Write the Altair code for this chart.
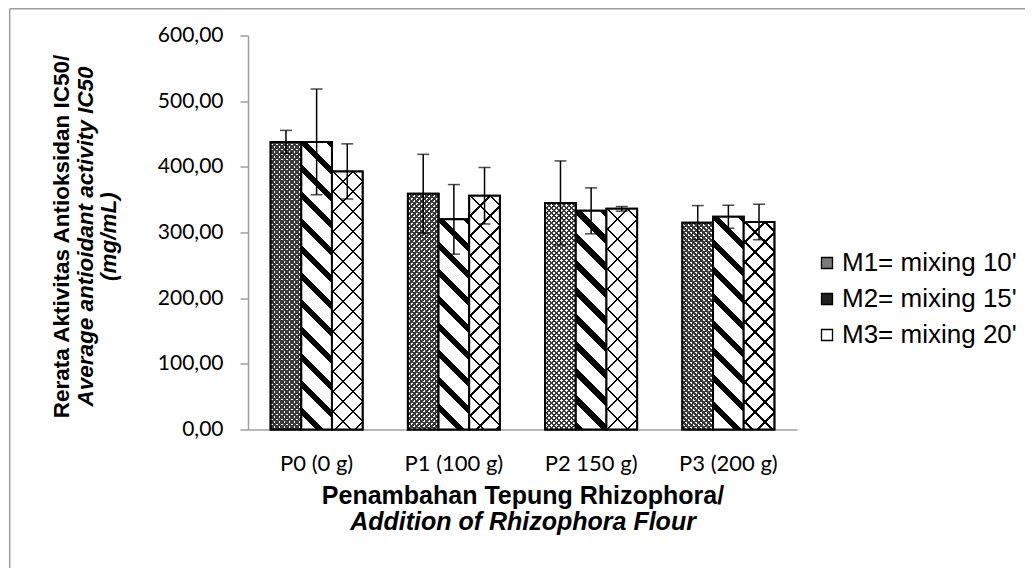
import altair as alt
import pandas as pd

# ---------------- data ----------------
categories = ["P0 (0 g)", "P1 (100 g)", "P2 150 g)", "P3 (200 g)"]
series = ["M1= mixing 10'", "M2= mixing 15'", "M3= mixing 20'"]
m1_values = [438, 359, 345, 315]
m2_values = [438, 320, 333, 324]
m3_values = [393, 356, 336, 316]
m1_err = [17.5, 60, 64, 26]
m2_err = [80.5, 53, 35, 17.5]
m3_err = [42, 43, 3.5, 27]
y_ticks = [0, 100, 200, 300, 400, 500, 600]

rows = []
for s, vals, errs in zip(series, [m1_values, m2_values, m3_values], [m1_err, m2_err, m3_err]):
    for c, v, e in zip(categories, vals, errs):
        rows.append({"cat": c, "series": s, "v": v, "e": e})
df = pd.DataFrame(rows)

# ---------------- layout ----------------
W, H = 549, 394
PAD_IN = 0.33
BW = (W / 4) * (1 - PAD_IN) / 3          # bar width in px
K = H / 600.0                             # px per unit
H0 = 300.0
L = BW + H0
A = BW / L

def stops_js(period, dark_frac, dark, light):
    out = []
    k = 0
    while k * period < L:
        s = k * period / L
        e = min((k * period + period * dark_frac) / L, 1.0)
        n = min((k + 1) * period / L, 1.0)
        out += [(s, dark), (e, dark), (e, light), (n, light)]
        k += 1
    return "[" + ",".join("{offset:%.5f,color:'%s'}" % (o, c) for o, c in out) + "]"

def pattern_layer(idx, tag, direction, period, dark_frac, dark, light, stroke):
    C = H0 / L if direction < 0 else 0.0
    bd = f"{direction}*datum.v*{K}/{L}"
    grad = ("{gradient:'linear',x1:%f*datum.dx_%s,y1:%f*datum.dy_%s,x2:%f*datum.dx_%s,y2:%f*datum.dy_%s,stops:%s}"
            % (-C, tag, -C, tag, 1 - C, tag, 1 - C, tag, stops_js(period, dark_frac, dark, light)))
    ch = (alt.Chart(df)
          .transform_filter(alt.FieldEqualPredicate(field="series", equal=series[idx]))
          .transform_calculate(**{f"bd_{tag}": bd})
          .transform_calculate(**{f"dx_{tag}": f"{A}/({A*A}+datum.bd_{tag}*datum.bd_{tag})"})
          .transform_calculate(**{f"dy_{tag}": f"datum.bd_{tag}/({A*A}+datum.bd_{tag}*datum.bd_{tag})"})
          .transform_calculate(**{f"g_{tag}": grad}))
    mk = ch.mark_bar(stroke="black" if stroke else None, strokeWidth=2 if stroke else 0, aria=False)
    return mk.encode(x=xenc, xOffset=xoff, y=yenc,
                     fill=alt.Fill(f"g_{tag}:N", scale=None, legend=None))

xenc = alt.X("cat:N", sort=categories,
             scale=alt.Scale(paddingInner=PAD_IN, paddingOuter=PAD_IN / 2),
             axis=alt.Axis(title=None, ticks=False, labelAngle=0, domainColor="#a0a0a0",
                           domainWidth=1.5, labelFont="Lato", labelFontSize=22,
                           labelColor="black", labelPadding=24))
xoff = alt.XOffset("series:N", sort=series,
                   scale=alt.Scale(domain=series, paddingInner=0, paddingOuter=0))
yenc = alt.Y("v:Q", scale=alt.Scale(domain=[0, 600], nice=False),
             axis=alt.Axis(title=None, values=y_ticks, grid=False,
                           labelExpr="replace(format(datum.value, '.2f'), '.', ',')",
                           domainColor="#a0a0a0", domainWidth=1.5, tickColor="#a0a0a0",
                           tickWidth=1.5, tickSize=8, labelFont="Lato", labelFontSize=21,
                           labelColor="black", labelPadding=17))

legend_bars = alt.Chart(df).mark_bar(stroke="black", strokeWidth=2).encode(
    x=xenc, xOffset=xoff, y=yenc,
    fill=alt.Fill("series:N", sort=series,
                  scale=alt.Scale(domain=series, range=["#7a7a7a", "#202020", "#ffffff"]),
                  legend=alt.Legend(orient="none", legendX=566, legendY=214.5, title=None,
                                    symbolType="square", symbolSize=121,
                                    symbolStrokeColor="black", symbolStrokeWidth=1.3,
                                    labelFont="Liberation Sans", labelFontSize=26,
                                    labelColor="black", rowPadding=10, labelOffset=2,
                                    padding=0, labelLimit=400)))

p1a = pattern_layer(0, "m1a", 1, 5, 0.5, "#3a3a3a", "#ffffff", False)
p1b = pattern_layer(0, "m1b", -1, 5, 0.5, "#3a3a3a", "rgba(255,255,255,0)", True)
p2 = pattern_layer(1, "m2", -1, 27, 0.3, "#000000", "#ffffff", True)
p3a = pattern_layer(2, "m3a", 1, 20, 0.12, "#000000", "#ffffff", False)
p3b = pattern_layer(2, "m3b", -1, 20, 0.12, "#000000", "rgba(255,255,255,0)", True)

err = alt.Chart(df).transform_calculate(lo="datum.v - datum.e", hi="datum.v + datum.e")
err_rule = err.mark_rule(color="black", strokeWidth=1.5).encode(
    x=xenc, xOffset=xoff, y=alt.Y("lo:Q"), y2="hi:Q")
err_lo = err.mark_tick(color="black", thickness=1.5, size=12).encode(x=xenc, xOffset=xoff, y="lo:Q")
err_hi = err.mark_tick(color="black", thickness=1.5, size=12).encode(x=xenc, xOffset=xoff, y="hi:Q")

one = pd.DataFrame({"a": [0]})
def txt(text, x, y, size, italic=False, angle=0):
    kw = dict(font="Liberation Sans", fontSize=size, fontWeight="bold", align="center",
              baseline="middle", color="black", angle=angle)
    if italic:
        kw["fontStyle"] = "italic"
    return alt.Chart(one).mark_text(**kw).encode(x=alt.value(x), y=alt.value(y), text=alt.value(text))

ytitle1 = txt("Rerata Aktivitas Antioksidan IC50/", -186, 201, 22.5, angle=270)
ytitle2 = txt("Average antioidant activity IC50", -162, 201, 22.5, italic=True, angle=270)
ytitle3 = txt("(mg/mL)", -139, 201, 22.5, italic=True, angle=270)
xtitle1 = txt("Penambahan Tepung Rhizophora/", 275, 460, 25)
xtitle2 = txt("Addition of Rhizophora Flour", 275, 486.5, 25, italic=True)

border_l = alt.Chart(one).mark_rule(color="#a0a0a0", strokeWidth=1.5).encode(
    x=alt.value(-238.3), y=alt.value(-26.75), y2=alt.value(600))
border_t = alt.Chart(one).mark_rule(color="#a0a0a0", strokeWidth=1.5).encode(
    x=alt.value(-238.3), x2=alt.value(900), y=alt.value(-26.75))

chart = alt.layer(
    border_l, border_t, legend_bars, p1a, p1b, p2, p3a, p3b, err_rule, err_lo, err_hi,
    ytitle1, ytitle2, ytitle3, xtitle1, xtitle2
).properties(
    width=W, height=H,
    padding={"left": 240, "top": 27.5, "right": 228, "bottom": 138.5},
    autosize=alt.AutoSizeParams(type="none"),
).configure_view(stroke=None)

chart.save("out.html", embed_options={"renderer": "svg", "actions": False})
